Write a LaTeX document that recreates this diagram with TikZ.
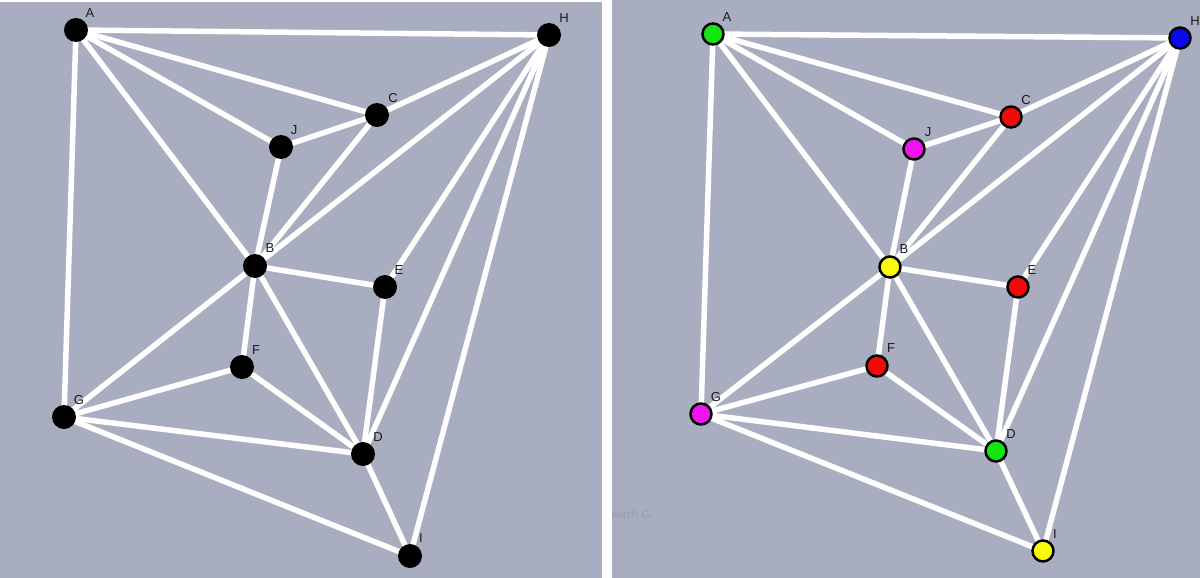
\documentclass[tikz,border=0pt]{standalone}
\usepackage{fontspec}
\setmainfont{Liberation Sans}
\definecolor{bg}{RGB}{168,174,191}
\definecolor{faint}{RGB}{150,156,172}
\definecolor{lbl}{RGB}{25,25,35}
\definecolor{vgreen}{RGB}{20,230,20}
\definecolor{vblue}{RGB}{10,10,240}
\definecolor{vred}{RGB}{240,10,10}
\definecolor{vmag}{RGB}{240,20,240}
\definecolor{vyel}{RGB}{250,250,10}
\pgfdeclarelayer{bgl}
\pgfdeclarelayer{edges}
\pgfsetlayers{bgl,edges,main}
\begin{document}
\begin{tikzpicture}[x=1pt,y=-1pt,
  edge/.style={white,line width=5.5pt},
  bnode/.style={circle,fill=black,minimum size=24pt,inner sep=0pt},
  cnode/.style={circle,draw=black,line width=2.5pt,minimum size=21pt,inner sep=0pt},
  lab/.style={text=lbl,font=\fontsize{13}{15}\selectfont,inner sep=0pt}]
\useasboundingbox (0,0) rectangle (1200,578);
\begin{pgfonlayer}{bgl}
\fill[white] (0,0) rectangle (1200,578);
\fill[bg] (0,2) rectangle (602,578);
\fill[bg] (612,0) rectangle (1200,578);
\end{pgfonlayer}
\node[text=faint,font=\fontsize{11.5}{13}\selectfont,anchor=west,inner sep=0pt] (note) at (612,514) {witch G.};
% left graph
\node[bnode] (A) at (76,30) {};
\node[bnode] (H) at (549,35) {};
\node[bnode] (C) at (377,115) {};
\node[bnode] (J) at (281,147) {};
\node[bnode] (B) at (255,266) {};
\node[bnode] (E) at (385,287) {};
\node[bnode] (F) at (242,367) {};
\node[bnode] (G) at (64,417) {};
\node[bnode] (D) at (363,454) {};
\node[bnode] (I) at (410,556) {};
\begin{pgfonlayer}{edges}
\foreach \u/\v in {A/H,A/C,A/J,A/B,A/G,H/C,H/B,H/E,H/D,H/I,C/J,C/B,J/B,B/E,B/F,B/G,B/D,E/D,F/G,F/D,G/D,G/I,D/I}
  \draw[edge] (\u.center) -- (\v.center);
\end{pgfonlayer}
\node[lab] (tA) at (90,13) {A};
\node[lab] (tH) at (564,18) {H};
\node[lab] (tC) at (393,98) {C};
\node[lab] (tJ) at (294,130) {J};
\node[lab] (tB) at (270,248) {B};
\node[lab] (tE) at (399,270) {E};
\node[lab] (tF) at (256,350) {F};
\node[lab] (tG) at (79,400) {G};
\node[lab] (tD) at (378,437) {D};
\node[lab] (tI) at (421,538) {I};
% right graph
\node[cnode,fill=vgreen] (rA) at (713,34) {};
\node[cnode,fill=vblue] (rH) at (1180,38) {};
\node[cnode,fill=vred] (rC) at (1011,117) {};
\node[cnode,fill=vmag] (rJ) at (914,149) {};
\node[cnode,fill=vyel] (rB) at (890,267) {};
\node[cnode,fill=vred] (rE) at (1018,287) {};
\node[cnode,fill=vred] (rF) at (877,366) {};
\node[cnode,fill=vmag] (rG) at (701,414) {};
\node[cnode,fill=vgreen] (rD) at (996,451) {};
\node[cnode,fill=vyel] (rI) at (1043,551) {};
\begin{pgfonlayer}{edges}
\foreach \u/\v in {A/H,A/C,A/J,A/B,A/G,H/C,H/B,H/E,H/D,H/I,C/J,C/B,J/B,B/E,B/F,B/G,B/D,E/D,F/G,F/D,G/D,G/I,D/I}
  \draw[edge] (r\u.center) -- (r\v.center);
\end{pgfonlayer}
\node[lab] (rtA) at (727,17) {A};
\node[lab] (rtH) at (1195,21) {H};
\node[lab] (rtC) at (1026,100) {C};
\node[lab] (rtJ) at (928,132) {J};
\node[lab] (rtB) at (904,249) {B};
\node[lab] (rtE) at (1032,270) {E};
\node[lab] (rtF) at (891,348) {F};
\node[lab] (rtG) at (716,397) {G};
\node[lab] (rtD) at (1011,434) {D};
\node[lab] (rtI) at (1055,534) {I};
\end{tikzpicture}
\end{document}
